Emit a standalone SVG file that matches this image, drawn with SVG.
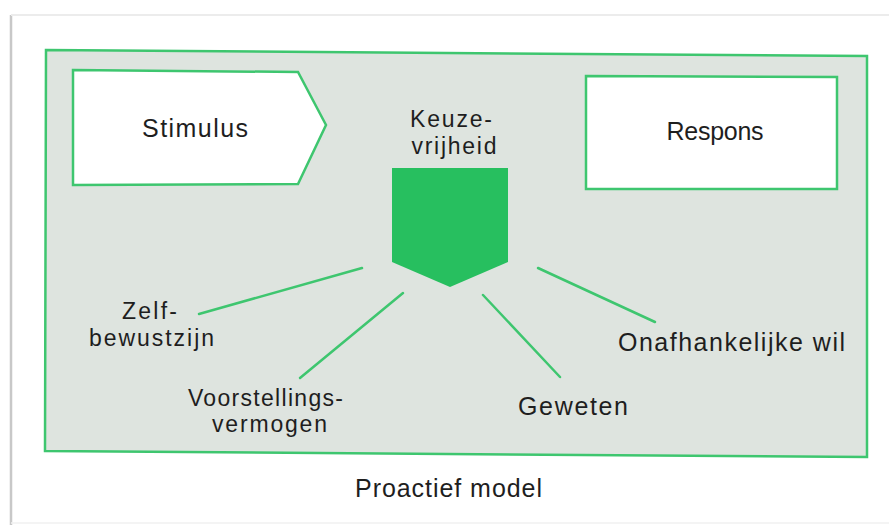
<svg xmlns="http://www.w3.org/2000/svg" width="889" height="525" viewBox="0 0 889 525">
  <style>
    .t { font-family: "Liberation Sans", Arial, sans-serif; font-size: 25px; fill: #1e1e1e; }
    .t2 { font-family: "Liberation Sans", Arial, sans-serif; font-size: 23px; fill: #1e1e1e; }
    .box { fill: #ffffff; stroke: #3ec66f; stroke-width: 2.5; }
    .conn { stroke: #3ec66f; stroke-width: 2.5; fill: none; stroke-linecap: round; }
  </style>
  <rect x="0" y="0" width="889" height="525" fill="#ffffff"/>
  <g id="page">
    <line x1="11" y1="15" x2="11" y2="525" stroke="#c8c8c8" stroke-width="2.5"/>
    <line x1="11" y1="15" x2="889" y2="15" stroke="#ececec" stroke-width="2"/>
    <line x1="11" y1="523" x2="889" y2="523" stroke="#f0f0f0" stroke-width="1.5"/>
  </g>
  <g id="frame">
    <polygon points="46,50 867,56 867,457 45,451" fill="#dee4df" stroke="#3ec66f" stroke-width="2.5"/>
  </g>
  <g id="connectors">
    <line class="conn" x1="199" y1="314" x2="362" y2="268"/>
    <line class="conn" x1="300" y1="378" x2="403" y2="293"/>
    <line class="conn" x1="483" y1="295" x2="560" y2="377"/>
    <line class="conn" x1="538" y1="268" x2="655" y2="322"/>
  </g>
  <g id="stimulus">
    <polygon class="box" points="73,70 298,72 326,125 298,184 73,185"/>
    <text class="t" x="195" y="137" text-anchor="middle" textLength="106">Stimulus</text>
  </g>
  <g id="respons">
    <polygon class="box" points="586,76 837,77 837,189 586,189"/>
    <text class="t" x="715" y="140" text-anchor="middle" textLength="97">Respons</text>
  </g>
  <g id="keuzevrijheid">
    <text class="t2" x="451" y="127" text-anchor="middle" textLength="82">Keuze-</text>
    <text class="t2" x="454" y="154" text-anchor="middle" textLength="85">vrijheid</text>
    <polygon points="392,168 508,168 508,262 450,287 392,262" fill="#27bf5f"/>
  </g>
  <g id="zelfbewustzijn">
    <text class="t2" x="122" y="319" textLength="55">Zelf-</text>
    <text class="t2" x="89" y="346" textLength="125">bewustzijn</text>
  </g>
  <g id="voorstellingsvermogen">
    <text class="t2" x="188" y="406" textLength="155">Voorstellings-</text>
    <text class="t2" x="212" y="432" textLength="115">vermogen</text>
  </g>
  <g id="geweten">
    <text class="t" x="518" y="415" textLength="110">Geweten</text>
  </g>
  <g id="onafhankelijke">
    <text class="t" x="618" y="351" textLength="227">Onafhankelijke wil</text>
  </g>
  <g id="caption">
    <text class="t" x="355" y="497" textLength="187">Proactief model</text>
  </g>
</svg>
